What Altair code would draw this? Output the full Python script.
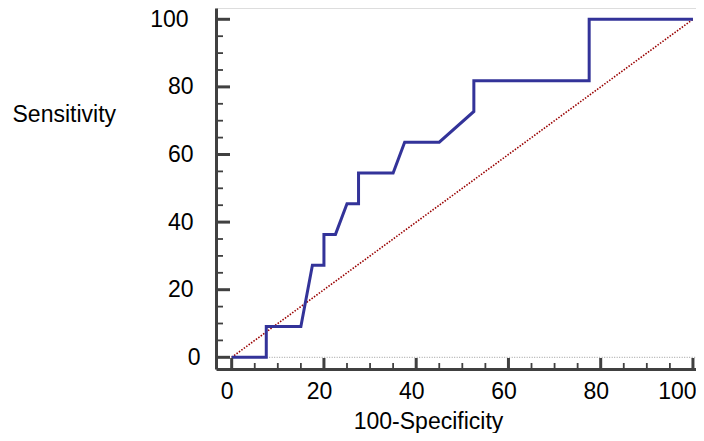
import altair as alt
import pandas as pd

# ROC curve points (100-Specificity, Sensitivity)
fpr = [0, 7.5, 7.5, 15, 17.5, 20, 20, 22.5, 25, 27.5, 27.5, 35, 37.5, 45, 52.5, 52.5, 77.5, 77.5, 100]
tpr = [0, 0, 9.09, 9.09, 27.27, 27.27, 36.36, 36.36, 45.45, 45.45, 54.55, 54.55, 63.64, 63.64, 72.73, 81.82, 81.82, 100, 100]

diag_x = [0, 100]
diag_y = [0, 100]

major_ticks = [0, 20, 40, 60, 80, 100]
minor_ticks = [5, 10, 15, 25, 30, 35, 45, 50, 55, 65, 70, 75, 85, 90, 95]

W, H = 480, 361
FONT = "Liberation Sans"
AXIS_COLOR = "#404040"

xscale = alt.Scale(domain=[-3.4, 100.66], nice=False, zero=False)
yscale = alt.Scale(domain=[-3.46, 103.34], nice=False, zero=False)

x_axis = alt.Axis(
    values=major_ticks, ticks=False, tickSize=0, grid=False,
    domainColor=AXIS_COLOR, domainWidth=3,
    labelFont=FONT, labelFontSize=23, labelColor="black",
    labelPadding=11,
    labelOffset={"condition": {"test": "datum.value == 100", "value": -16}, "value": -5},
    labelFlush=False, labelOverlap=False,
    labelBaseline="top",
    title="100-Specificity", titleFont=FONT, titleFontSize=23,
    titleFontWeight="normal", titleColor="black",
    titleAlign="center", titleBaseline="alphabetic", titleX=212, titleY=59,
)
y_axis = alt.Axis(
    values=major_ticks, ticks=False, tickSize=0, grid=False,
    domainColor=AXIS_COLOR, domainWidth=3,
    labelFont=FONT, labelFontSize=23, labelColor="black",
    labelPadding={
        "condition": [
            {"test": "datum.value == 100", "value": 28},
            {"test": "datum.value > 0", "value": 23},
        ],
        "value": 16,
    },
    labelAlign="right", labelFlush=False, labelOverlap=False,
    title="Sensitivity", titleFont=FONT, titleFontSize=23,
    titleFontWeight="normal", titleColor="black", titleAngle=0,
    titleAlign="left", titleBaseline="alphabetic", titleX=-204, titleY=113,
)

roc_df = pd.DataFrame({"x": fpr, "y": tpr, "i": range(len(fpr))})
diag_df = pd.DataFrame({"x": diag_x, "y": diag_y})
major_df = pd.DataFrame({"v": major_ticks})
minor_df = pd.DataFrame({"v": minor_ticks})
zero_df = pd.DataFrame({"v": [0]})

zero_line = alt.Chart(zero_df).mark_rule(color="#9a9a9a", strokeWidth=1, strokeDash=[1, 1.5]).encode(
    y=alt.Y("v:Q", scale=yscale, axis=y_axis),
    x=alt.X("v:Q", scale=xscale, axis=x_axis),
    x2=alt.value(W),
)

diag = alt.Chart(diag_df).mark_line(color="#990000", strokeWidth=1.6, strokeDash=[1.5, 1.5]).encode(
    x=alt.X("x:Q", scale=xscale, axis=x_axis),
    y=alt.Y("y:Q", scale=yscale, axis=y_axis),
)

roc = alt.Chart(roc_df).mark_line(color="#333399", strokeWidth=3).encode(
    x=alt.X("x:Q", scale=xscale, axis=x_axis),
    y=alt.Y("y:Q", scale=yscale, axis=y_axis),
    order="i:Q",
)

y_major = alt.Chart(major_df).mark_rule(color=AXIS_COLOR, strokeWidth=3).encode(
    y=alt.Y("v:Q", scale=yscale, axis=y_axis),
    x=alt.value(0), x2=alt.value(14),
)
y_minor = alt.Chart(minor_df).mark_rule(color=AXIS_COLOR, strokeWidth=1.8).encode(
    y=alt.Y("v:Q", scale=yscale, axis=y_axis),
    x=alt.value(0), x2=alt.value(7),
)
x_major = alt.Chart(major_df).mark_rule(color=AXIS_COLOR, strokeWidth=3).encode(
    x=alt.X("v:Q", scale=xscale, axis=x_axis),
    y=alt.value(H), y2=alt.value(H - 11),
)
x_minor = alt.Chart(minor_df).mark_rule(color=AXIS_COLOR, strokeWidth=1.8).encode(
    x=alt.X("v:Q", scale=xscale, axis=x_axis),
    y=alt.value(H), y2=alt.value(H - 6),
)

chart = alt.layer(zero_line, diag, roc, y_major, y_minor, x_major, x_minor).properties(
    width=W, height=H,
    padding={"left": 208, "top": 0, "right": 0, "bottom": 64},
    autosize=alt.AutoSizeParams(type="none"),
).configure_view(stroke=None).configure(background="white")

chart.save("out.html", embed_options={"renderer": "svg", "actions": False})
